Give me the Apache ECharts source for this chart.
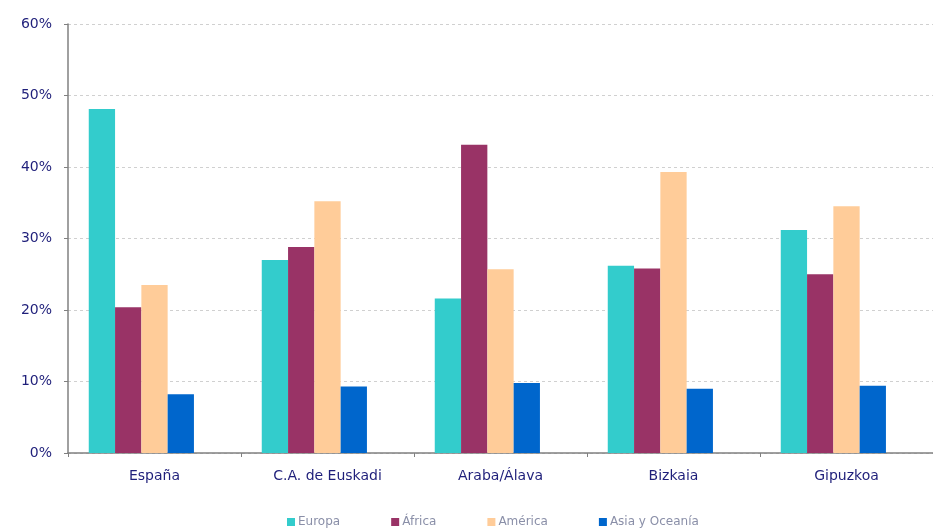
<!DOCTYPE html>
<html>
<head>
<meta charset="utf-8">
<script src="https://cdn.jsdelivr.net/npm/echarts@6/dist/echarts.min.js"></script>
<style>html,body{margin:0;padding:0;background:#fff}#c{width:933px;height:529px}</style>
</head>
<body>
<div id="c"></div>
<script>
const categories = ['España', 'C.A. de Euskadi', 'Araba/Álava', 'Bizkaia', 'Gipuzkoa'];
const europa = [48.1, 27.0, 21.6, 26.2, 31.2];
const africa = [20.4, 28.8, 43.1, 25.8, 25.0];
const america = [23.5, 35.2, 25.7, 39.3, 34.5];
const asia = [8.2, 9.3, 9.8, 9.0, 9.4];
const seriesNames = ['Europa', 'África', 'América', 'Asia y Oceanía'];
const colors = ['#33CCCC', '#993366', '#FFCC99', '#0066CC'];
const yTicks = { min: 0, max: 60, interval: 10 };

const chart = echarts.init(document.getElementById('c'), null, { renderer: 'canvas' });
const textColor = '#1F1F7A';
const dataSets = [europa, africa, america, asia];
const series = dataSets.map((d, i) => ({
  name: seriesNames[i],
  type: 'bar',
  data: d,
  barGap: '0%',
  barCategoryGap: '24%',
  itemStyle: { color: colors[i] },
  emphasis: { disabled: true }
}));
// empty fifth slot (as in the original spreadsheet layout) so bars sit left of center
series.push({ name: 'pad', type: 'bar', data: categories.map(() => '-'), barGap: '0%', barCategoryGap: '24%', itemStyle: { color: 'transparent' } });

chart.setOption({
  animation: false,
  backgroundColor: '#fff',
  grid: { left: 68, right: -8, top: 24, bottom: 76, containLabel: false },
  legend: {
    data: seriesNames,
    left: 282,
    top: 511,
    itemWidth: 8,
    itemHeight: 8,
    itemGap: 51,
    icon: 'rect',
    textStyle: { color: '#8A8FA8', fontFamily: 'DejaVu Sans', fontSize: 12, padding: [0, 0, 0, -2] }
  },
  xAxis: {
    type: 'category',
    data: categories,
    axisLine: { lineStyle: { color: '#808080', width: 1.5 } },
    axisTick: { show: true, length: 4, lineStyle: { color: '#808080' } },
    axisLabel: { color: textColor, fontFamily: 'DejaVu Sans', fontSize: 14, margin: 16 }
  },
  yAxis: {
    type: 'value',
    min: yTicks.min,
    max: yTicks.max,
    interval: yTicks.interval,
    axisLine: { show: true, lineStyle: { color: '#808080', width: 1.5 } },
    axisTick: { show: true, length: 4, lineStyle: { color: '#808080' } },
    axisLabel: { formatter: '{value}%', color: textColor, fontFamily: 'DejaVu Sans', fontSize: 14, margin: 16 },
    splitLine: { show: true, lineStyle: { color: '#D0D0D0', type: [3, 3] } }
  },
  series: series
});
</script>
</body>
</html>
